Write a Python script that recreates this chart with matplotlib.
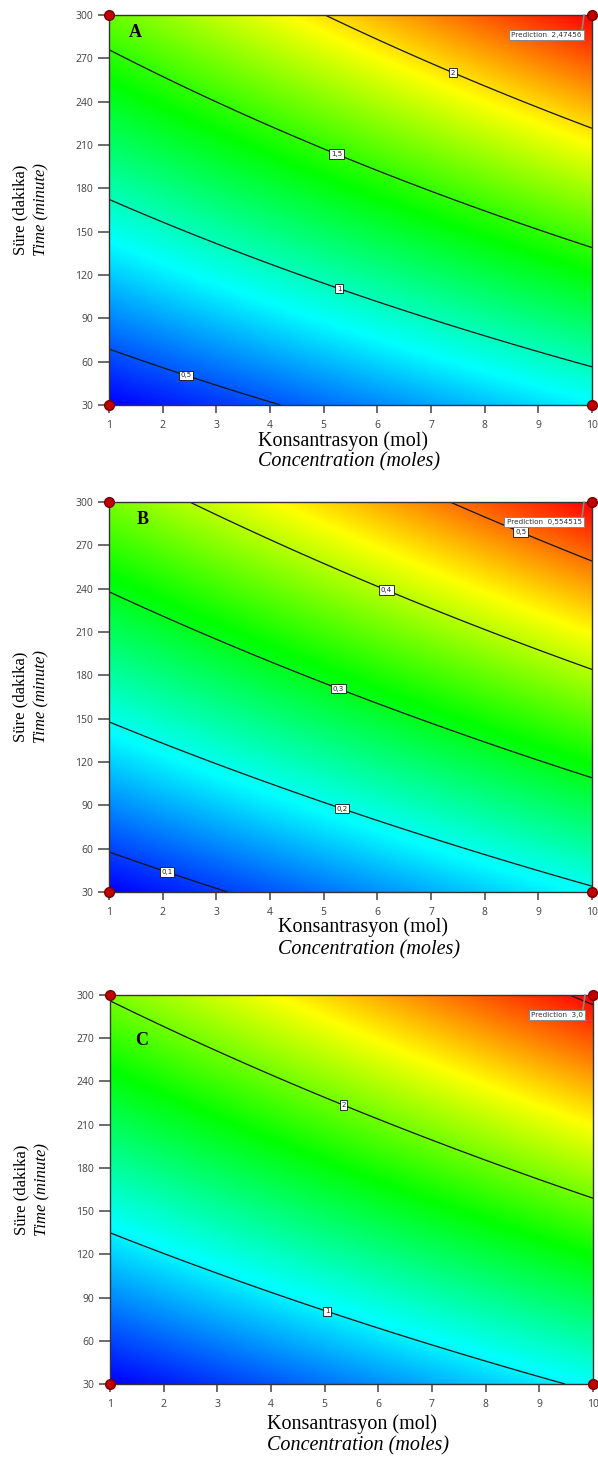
import matplotlib.pyplot as plt
import numpy as np
from matplotlib.colors import LinearSegmentedColormap

# axis ranges and ticks
conc_range = [1, 10]
time_range = [30, 300]
x_ticks = [1, 2, 3, 4, 5, 6, 7, 8, 9, 10]
y_ticks = [30, 60, 90, 120, 150, 180, 210, 240, 270, 300]

# response model: y = a + b*conc + c*time + d*conc*time
coef_A = [0.1138, 0.05446, 0.004689, 0.0001366]
coef_B = [0.02270, 0.013191, 0.0010857, 0.00002473]
coef_C = [0.08889, 0.07278, 0.006074, 0.000137]

levels_A = [0.5, 1, 1.5, 2]
levels_B = [0.1, 0.2, 0.3, 0.4, 0.5]
levels_C = [1, 2, 3]

labeled_A = [0.5, 1, 1.5, 2]
labeled_B = [0.1, 0.2, 0.3, 0.4, 0.5]
labeled_C = [1, 2]

labelpos_A = [(2.45, 52), (5.3, 112), (5.25, 205), (7.4, 260)]
labelpos_B = [(2.1, 46), (5.36, 90), (5.29, 172), (6.18, 240), (8.66, 278)]
labelpos_C = [(5.06, 82), (5.4, 228)]

predictions = [2.47456, 0.554515, 3.0]
panel_names = ['A', 'B', 'C']

cmap = LinearSegmentedColormap.from_list(
    'dx', ['#0000ff', '#00ffff', '#00ff00', '#ffff00', '#ff0000'])

fig = plt.figure(figsize=(5.98, 14.63), dpi=100)
boxes = [[0.1823, 0.72317, 0.8077, 0.26658],
         [0.1823, 0.39029, 0.8077, 0.26658],
         [0.1839, 0.0540, 0.8077, 0.2659]]
letter_pos = [(0.054, 0.954), (0.07, 0.956), (0.066, 0.884)]
xlab_left = [0.308, 0.35, 0.325]
xlab_y = [(-0.092, -0.146), (-0.09, -0.149), (-0.103, -0.159)]

panels = [(coef_A, levels_A, labeled_A, labelpos_A),
          (coef_B, levels_B, labeled_B, labelpos_B),
          (coef_C, levels_C, labeled_C, labelpos_C)]

cc, tt = np.meshgrid(np.linspace(conc_range[0], conc_range[1], 300),
                     np.linspace(time_range[0], time_range[1], 300))


def fmt(v):
    s = ('%g' % v).replace('.', ',')
    return s


for i, (coef, levels, labeled, labelpos) in enumerate(panels):
    ax = fig.add_axes(boxes[i])
    a, b, c, d = coef
    z = a + b * cc + c * tt + d * cc * tt
    ax.imshow(z, extent=[1, 10, 30, 300], origin='lower', aspect='auto',
              cmap=cmap, interpolation='bilinear')
    cs = ax.contour(cc, tt, z, levels=levels, colors='#151515', linewidths=0.9)
    texts = ax.clabel(cs, levels=labeled, manual=labelpos, inline=False,
                      fontsize=5, fmt=fmt)
    for t in texts:
        t.set_rotation(0)
        t.set_family('DejaVu Sans')
        t.set_color('#222222')
        t.set_zorder(5)
        t.set_bbox(dict(boxstyle='square,pad=0.25', fc='white', ec='#111111', lw=0.6))

    # design points at the corners
    ax.plot([1, 10, 1, 10], [30, 30, 300, 300], 'o', color='#c00000',
            markeredgecolor='#7a0000', markersize=7, clip_on=False, zorder=8)

    ax.annotate('Prediction  ' + str(predictions[i]).replace('.', ','),
                xy=(9.85, 300), xytext=(-1.6, -12.3), textcoords='offset points',
                ha='right', va='top', fontsize=5.2, family='DejaVu Sans',
                color='#333333', zorder=7, annotation_clip=False,
                bbox=dict(boxstyle='square,pad=0.3', fc='white', ec='#888888', lw=0.7),
                arrowprops=dict(arrowstyle='-', color='#888888', lw=1.2,
                                relpos=(1, 1), shrinkA=0, shrinkB=0))

    ax.text(letter_pos[i][0], letter_pos[i][1], panel_names[i], transform=ax.transAxes,
            ha='center', va='center', fontsize=13, fontweight='bold',
            family='Liberation Serif', zorder=6)

    ax.set_xlim(conc_range)
    ax.set_ylim(time_range)
    ax.set_xticks(x_ticks)
    ax.set_yticks(y_ticks)
    for lab in ax.get_xticklabels() + ax.get_yticklabels():
        lab.set_family('Open Sans')
    ax.tick_params(axis='y', length=8, width=1.1, pad=3.5, color='#444444',
                   labelcolor='#404040', labelsize=7.5)
    ax.tick_params(axis='x', length=6, width=1.1, pad=5, color='#444444',
                   labelcolor='#404040', labelsize=7.5)
    for sp in ax.spines.values():
        sp.set_color('#333333')
        sp.set_linewidth(1.0)

    ax.text(-0.184, 0.5, 'Süre (dakika)', rotation=90, transform=ax.transAxes,
            ha='center', va='center', fontsize=12, family='Liberation Serif')
    ax.text(-0.139, 0.5, 'Time (minute)', rotation=90, transform=ax.transAxes,
            ha='center', va='center', fontsize=12, style='italic',
            family='Liberation Serif')
    ax.text(xlab_left[i], xlab_y[i][0], 'Konsantrasyon (mol)', transform=ax.transAxes,
            ha='left', va='center', fontsize=14.5, family='Liberation Serif')
    ax.text(xlab_left[i], xlab_y[i][1], 'Concentration (moles)', transform=ax.transAxes,
            ha='left', va='center', fontsize=14.5, style='italic',
            family='Liberation Serif')

fig.savefig('out.png', dpi=100)
